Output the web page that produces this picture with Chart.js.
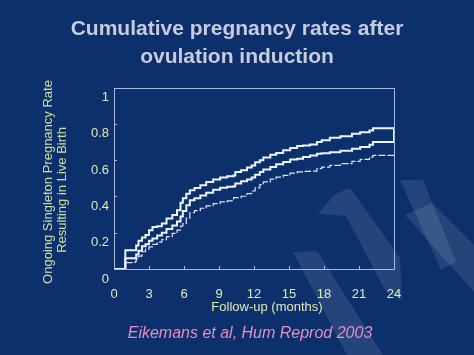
<!DOCTYPE html>
<html>
<head>
<meta charset="utf-8">
<script src="https://cdn.jsdelivr.net/npm/chart.js@4.4.1/dist/chart.umd.min.js"></script>
<style>
  html, body { margin: 0; padding: 0; background: #0b306b; }
  #wrap { width: 474px; height: 355px; position: relative; }
</style>
</head>
<body>
<div id="wrap"><canvas id="c" width="474" height="355"></canvas></div>
<script>
// ---- data ----
const months = [0, 0.97, 1.8, 1.9, 2.1, 2.4, 2.7, 3.0, 3.3, 3.7, 4.1, 4.5, 5.0, 5.4, 5.7, 5.9, 6.2, 6.5, 6.9, 7.4, 7.9, 8.5, 9.1, 9.7, 10.25, 10.4, 10.9, 11.4, 11.8, 12.1, 12.5, 12.8, 13.4, 13.9, 14.5, 15.1, 15.7, 16.2, 16.8, 17.4, 17.8, 18.5, 19.4, 20.4, 21.1, 21.9, 22.2, 24];
const upperRate = [0, 0.104, 0.104, 0.13, 0.156, 0.174, 0.187, 0.214, 0.232, 0.236, 0.251, 0.278, 0.297, 0.324, 0.365, 0.39, 0.415, 0.434, 0.447, 0.462, 0.48, 0.493, 0.504, 0.511, 0.516, 0.535, 0.544, 0.559, 0.571, 0.588, 0.6, 0.614, 0.63, 0.639, 0.654, 0.667, 0.678, 0.681, 0.687, 0.7, 0.71, 0.723, 0.732, 0.745, 0.754, 0.764, 0.776, 0.776];
const middleRate = [0, 0.059, 0.059, 0.08, 0.1, 0.125, 0.137, 0.156, 0.168, 0.185, 0.2, 0.22, 0.24, 0.262, 0.29, 0.32, 0.352, 0.379, 0.39, 0.405, 0.42, 0.437, 0.448, 0.453, 0.456, 0.471, 0.484, 0.493, 0.504, 0.52, 0.535, 0.549, 0.562, 0.577, 0.59, 0.603, 0.608, 0.617, 0.626, 0.636, 0.638, 0.643, 0.652, 0.663, 0.672, 0.685, 0.7, 0.7];
const lowerRate = [0, 0.035, 0.04, 0.055, 0.071, 0.095, 0.11, 0.122, 0.136, 0.148, 0.162, 0.178, 0.196, 0.214, 0.236, 0.25, 0.28, 0.31, 0.322, 0.335, 0.348, 0.36, 0.37, 0.376, 0.394, 0.394, 0.401, 0.416, 0.43, 0.447, 0.465, 0.48, 0.495, 0.507, 0.516, 0.529, 0.535, 0.538, 0.54, 0.553, 0.562, 0.571, 0.581, 0.593, 0.604, 0.617, 0.626, 0.626];
const xTicks = [0, 3, 6, 9, 12, 15, 18, 21, 24];
const yTicks = [0, 0.2, 0.4, 0.6, 0.8, 1];
const titleLines = ['Cumulative pregnancy rates after', 'ovulation induction'];
const yTitleLines = ['Ongoing Singleton Pregnancy Rate', 'Resulting in Live Birth'];
const xTitle = 'Follow-up (months)';
const citation = 'Eikemans et al, Hum Reprod 2003';

const FONT = '"Liberation Sans", Arial, sans-serif';
const toPts = (vals) => months.map((m, i) => ({ x: m, y: vals[i] }));
const upperPts = toPts(upperRate);
// closing vertical drop at the end of follow-up
upperPts.push({ x: months[months.length - 1], y: middleRate[middleRate.length - 1] });

const decor = {
  id: 'decor',
  beforeDraw(chart) {
    const ctx = chart.ctx;
    ctx.save();
    ctx.fillStyle = '#0b306b';
    ctx.fillRect(0, 0, chart.width, chart.height);
    // faint watermark logo strokes
    ctx.fillStyle = 'rgba(255,255,255,0.10)';
    const polys = [
      [[293,252],[317,251],[383,355],[347,355]],
      [[318,214],[335,194],[350,188],[400,258],[402,300],[386,292],[346,216]],
      [[400,180],[423,180],[456,262],[441,270]],
      [[405,215],[432,203],[474,245],[474,292]]
    ];
    polys.forEach(p => {
      ctx.beginPath();
      ctx.moveTo(p[0][0], p[0][1]);
      p.slice(1).forEach(q => ctx.lineTo(q[0], q[1]));
      ctx.closePath();
      ctx.fill();
    });
    ctx.restore();
  },
  afterDraw(chart) {
    const ctx = chart.ctx;
    const a = chart.chartArea;
    ctx.save();
    ctx.strokeStyle = '#a9bbdc';
    ctx.lineWidth = 1;
    ctx.strokeRect(Math.round(a.left) + 0.5, Math.round(a.top) + 0.5, Math.round(a.right - a.left), Math.round(a.bottom - a.top));
    // small inward ticks
    const xs = chart.scales.x, ys = chart.scales.y;
    ctx.beginPath();
    xTicks.forEach(t => { const px = Math.round(xs.getPixelForValue(t)) + 0.5; ctx.moveTo(px, a.bottom); ctx.lineTo(px, a.bottom - 3); });
    yTicks.forEach(t => { const py = Math.round(ys.getPixelForValue(t)) + 0.5; ctx.moveTo(a.left, py); ctx.lineTo(a.left + 3, py); });
    ctx.stroke();
    ctx.textAlign = 'center';
    ctx.textBaseline = 'middle';
    // x axis title
    ctx.fillStyle = '#e2e9b6';
    ctx.font = '13px ' + FONT;
    ctx.fillText(xTitle, 267, 307);
    // y axis title
    ctx.fillStyle = '#cfe09a';
    ctx.font = '13px ' + FONT;
    ctx.save();
    ctx.translate(48, 182);
    ctx.rotate(-Math.PI / 2);
    ctx.fillText(yTitleLines[0], 0, 0);
    ctx.restore();
    ctx.save();
    ctx.translate(62, 190);
    ctx.rotate(-Math.PI / 2);
    ctx.fillText(yTitleLines[1], 0, 0);
    ctx.restore();
    // citation
    ctx.fillStyle = '#e98cc2';
    ctx.font = 'italic 16px ' + FONT;
    ctx.fillText(citation, 250, 334);
    ctx.restore();
  }
};

new Chart(document.getElementById('c'), {
  type: 'line',
  data: {
    datasets: [
      { data: upperPts, borderColor: '#eef2ff', borderWidth: 2, stepped: true, pointRadius: 0, fill: false },
      { data: toPts(middleRate), borderColor: '#eef2ff', borderWidth: 2, stepped: true, pointRadius: 0, fill: false },
      { data: toPts(lowerRate), borderColor: '#dde4f6', borderWidth: 1.2, borderDash: [7, 2], stepped: true, pointRadius: 0, fill: false }
    ]
  },
  options: {
    responsive: false,
    animation: false,
    layout: { padding: 0 },
    plugins: {
      legend: { display: false },
      tooltip: { enabled: false },
      title: {
        display: true,
        text: titleLines,
        color: '#c7cbdd',
        font: { family: FONT, size: 21, weight: 'bold', lineHeight: 1.3 },
        padding: { top: 16, bottom: 17 }
      }
    },
    scales: {
      x: {
        type: 'linear',
        min: 0, max: 24,
        afterBuildTicks(s) { s.ticks = xTicks.map(v => ({ value: v })); },
        afterFit(s) { s.height = 86; },
        grid: { display: false, drawTicks: false },
        border: { display: false },
        ticks: { color: '#e2e9b6', font: { family: FONT, size: 13 }, padding: 18, maxRotation: 0 }
      },
      y: {
        min: 0, max: 1,
        afterBuildTicks(s) { s.ticks = yTicks.map(v => ({ value: v })); },
        afterFit(s) { s.width = 114; },
        grid: { display: false, drawTicks: false },
        border: { display: false },
        ticks: { color: '#e2e9b6', font: { family: FONT, size: 13 }, padding: 5, labelOffset: 10, callback: (v) => String(v) }
      },
      yRight: {
        position: 'right',
        min: 0, max: 1,
        afterFit(s) { s.width = 80; },
        grid: { display: false, drawTicks: false },
        border: { display: false },
        ticks: { display: false }
      }
    }
  },
  plugins: [decor]
});
</script>
</body>
</html>
